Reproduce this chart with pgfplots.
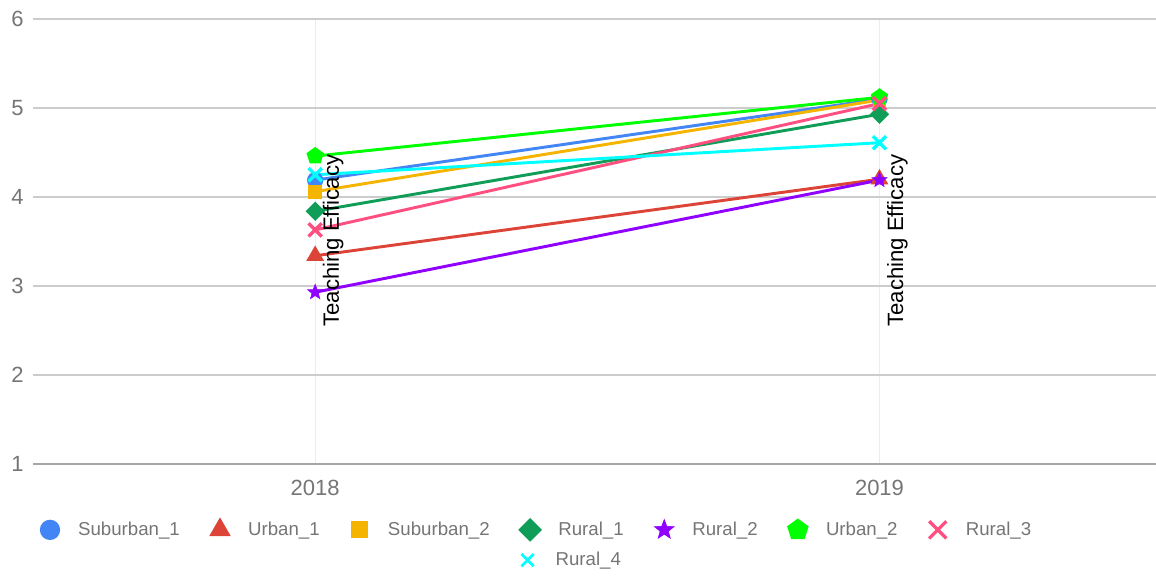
\documentclass[border=0pt]{standalone}
\usepackage{pgfplots}
\pgfplotsset{compat=1.18}
\usepackage{fontspec}
\setmainfont{Liberation Sans}
\definecolor{cSub1}{HTML}{4285F4}
\definecolor{cUrb1}{HTML}{DB4437}
\definecolor{cSub2}{HTML}{F4B400}
\definecolor{cRur1}{HTML}{0F9D58}
\definecolor{cRur2}{HTML}{8F00FF}
\definecolor{cUrb2}{HTML}{00FF00}
\definecolor{cRur3}{HTML}{FF4F81}
\definecolor{cRur4}{HTML}{00FFFF}
\definecolor{tgray}{HTML}{757575}
\definecolor{ggray}{HTML}{CCCCCC}
\pgfdeclareplotmark{fstar}{%
  \pgfpathmoveto{\pgfpointpolar{90}{\pgfplotmarksize}}%
  \pgfpathlineto{\pgfpointpolar{126}{0.42\pgfplotmarksize}}%
  \pgfpathlineto{\pgfpointpolar{162}{\pgfplotmarksize}}%
  \pgfpathlineto{\pgfpointpolar{198}{0.42\pgfplotmarksize}}%
  \pgfpathlineto{\pgfpointpolar{234}{\pgfplotmarksize}}%
  \pgfpathlineto{\pgfpointpolar{270}{0.42\pgfplotmarksize}}%
  \pgfpathlineto{\pgfpointpolar{306}{\pgfplotmarksize}}%
  \pgfpathlineto{\pgfpointpolar{342}{0.42\pgfplotmarksize}}%
  \pgfpathlineto{\pgfpointpolar{18}{\pgfplotmarksize}}%
  \pgfpathlineto{\pgfpointpolar{54}{0.42\pgfplotmarksize}}%
  \pgfpathclose
  \pgfusepathqfillstroke
}
\begin{document}
\begin{tikzpicture}
\pgfplotsset{
  mylegend/.style={
    legend image code/.code={
      \path (0pt,0pt) (24pt,0pt);
      \draw[##1,solid,every mark/.append style={scale=1.3}] plot[only marks] coordinates {(6pt,0pt)};
    },
    legend style={draw=none, fill=none, font=\fontsize{14}{16}\selectfont, text=tgray,
      /tikz/every even column/.append style={column sep=21pt},
      nodes={inner xsep=2pt, inner ysep=3pt}},
  }
}
\begin{axis}[
  scale only axis,
  width=842.25pt, height=333.75pt,
  xmin=2017.5, xmax=2019.49,
  ymin=1, ymax=6,
  xtick={2018,2019},
  xticklabels={2018,2019},
  ytick={1,2,3,4,5,6},
  axis lines=left,
  y axis line style={draw=none},
  x axis line style={draw=gray!70, line width=0.8pt, -},
  major tick length=0pt,
  ymajorgrids, xmajorgrids,
  y grid style={draw=ggray, line width=0.8pt},
  x grid style={draw=gray!15, line width=0.8pt},
  tick label style={font=\fontsize{16.5}{18}\selectfont, text=tgray},
  /pgf/number format/assume math mode=true,
  /pgf/number format/1000 sep={},
  yticklabel style={xshift=-3.5pt},
  xticklabel style={anchor=base, yshift=-23.25pt},
  clip=false,
  mylegend,
  legend columns=7,
  legend style={at={(0.449,-0.148)}, anchor=center},
  every axis plot/.append style={line width=2.2pt},
]
\addplot[color=cSub1, mark=*, mark size=5pt] coordinates {(2018,4.19) (2019,5.10)};
\addlegendentry{Suburban\_1}
\addplot[color=cUrb1, mark=triangle*, mark size=5.5pt] coordinates {(2018,3.34) (2019,4.20)};
\addlegendentry{Urban\_1}
\addplot[color=cSub2, mark=square*, mark size=4.1pt] coordinates {(2018,4.06) (2019,5.09)};
\addlegendentry{Suburban\_2}
\addplot[color=cRur1, mark=square*, mark size=4pt, mark options={rotate=45}] coordinates {(2018,3.84) (2019,4.93)};
\addlegendentry{Rural\_1}
\addplot[color=cRur2, mark=fstar, mark size=6pt, mark options={line width=0.4pt}] coordinates {(2018,2.93) (2019,4.19)};
\addlegendentry{Rural\_2}
\addplot[color=cUrb2, mark=pentagon*, mark size=5.5pt] coordinates {(2018,4.46) (2019,5.12)};
\addlegendentry{Urban\_2}
\addplot[color=cRur3, mark=x, mark size=7pt, mark options={line width=2.5pt}] coordinates {(2018,3.63) (2019,5.05)};
\addlegendentry{Rural\_3}
\addplot[color=cRur4, mark=x, mark size=7pt, mark options={line width=2.5pt}, forget plot] coordinates {(2018,4.25) (2019,4.61)};
\node[rotate=90, font=\fontsize{16.6}{18}\selectfont, text=black] at (axis cs:2018,3.51) [yshift=-13.5pt] {Teaching Efficacy};
\node[rotate=90, font=\fontsize{16.6}{18}\selectfont, text=black] at (axis cs:2019,3.51) [yshift=-13.5pt] {Teaching Efficacy};
\end{axis}
\begin{axis}[
  scale only axis,
  width=842.25pt, height=333.75pt,
  xmin=0, xmax=1, ymin=0, ymax=1,
  hide axis,
  mylegend,
  legend style={at={(0.479,-0.216)}, anchor=center},
]
\addlegendimage{color=cRur4, mark=x, mark size=5pt, mark options={line width=2pt}, line width=2pt}
\addlegendentry{Rural\_4}
\end{axis}
\pgfresetboundingbox
\path (-24.75pt,-83.25pt) rectangle (842.25pt,348pt);
\end{tikzpicture}
\end{document}
